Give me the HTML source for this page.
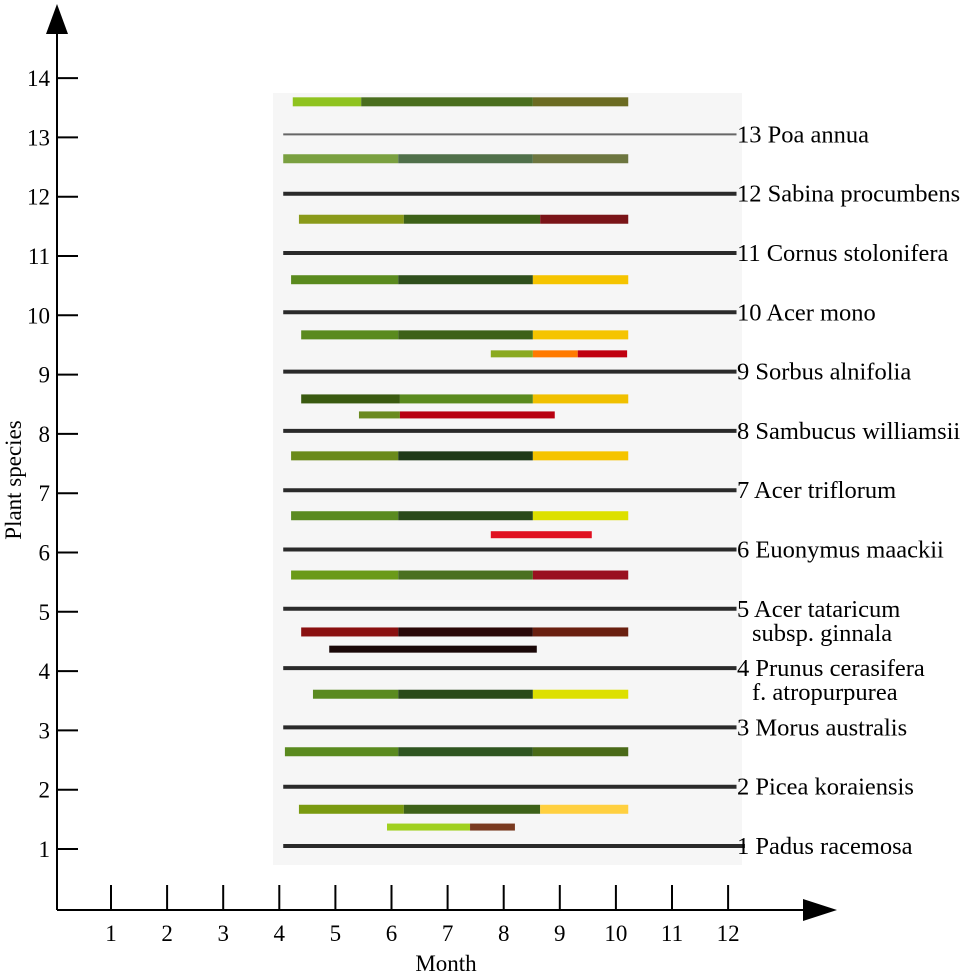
<!DOCTYPE html>
<html><head><meta charset="utf-8"><style>
html,body{margin:0;padding:0;background:#fff}
svg{display:block}
text{font-family:"Liberation Serif",serif;fill:#000}
</style></head><body>
<svg id="chart" width="968" height="979" viewBox="0 0 968 979" xmlns="http://www.w3.org/2000/svg">
<rect x="273" y="93" width="469" height="772" fill="#f6f6f6"/>
<g id="lines"></g>
<g id="bars"></g>
<g id="axes">
<line x1="57" y1="28" x2="57" y2="910" stroke="#000" stroke-width="2"/>
<polygon points="57,4 46,34 68,34" fill="#000"/>
<line x1="57" y1="910" x2="808" y2="910" stroke="#000" stroke-width="2"/>
<polygon points="837,910 803,899 803,921" fill="#000"/>
</g>
<g id="yticks"></g>
<g id="xticks"></g>
<g id="labels"></g>
<text x="446" y="971" font-size="23" text-anchor="middle">Month</text>
<text x="21" y="480" font-size="23" text-anchor="middle" transform="rotate(-90 21 480)">Plant species</text>
</svg>
<script>
const yTicks=[1,2,3,4,5,6,7,8,9,10,11,12,13,14];
const xTicks=[1,2,3,4,5,6,7,8,9,10,11,12];
const lineRows=[1,2,3,4,5,6,7,8,9,10,11,12,13];
const lineEnds=[12.3,12.15,12.15,12.15,12.15,12.15,12.15,12.15,12.15,12.15,12.15,12.15,12.15];
const segRow=[13.6,13.6,13.6, 12.64,12.64,12.64, 11.62,11.62,11.62, 10.6,10.6,10.6, 9.67,9.67,9.67, 9.35,9.35,9.35, 8.59,8.59,8.59, 8.32,8.32, 7.63,7.63,7.63, 6.62,6.62,6.62, 6.3, 5.62,5.62,5.62, 4.66,4.66,4.66, 4.37, 3.61,3.61,3.61, 2.64,2.64,2.64, 1.67,1.67,1.67, 1.37,1.37];
const segStart=[4.24,5.46,8.52, 4.07,6.12,8.52, 4.35,6.22,8.65, 4.21,6.12,8.52, 4.39,6.12,8.52, 7.77,8.52,9.32, 4.39,6.15,8.52, 5.42,6.15, 4.21,6.12,8.52, 4.21,6.12,8.52, 7.77, 4.21,6.12,8.52, 4.39,6.12,8.52, 4.89, 4.6,6.12,8.52, 4.1,6.12,8.52, 4.35,6.22,8.65, 5.92,7.4];
const segEnd=[5.46,8.52,10.22, 6.12,8.52,10.22, 6.22,8.65,10.22, 6.12,8.52,10.22, 6.12,8.52,10.22, 8.52,9.32,10.2, 6.15,8.52,10.22, 6.15,8.91, 6.12,8.52,10.22, 6.12,8.52,10.22, 9.57, 6.12,8.52,10.22, 6.12,8.52,10.22, 8.59, 6.12,8.52,10.22, 6.12,8.52,10.22, 6.22,8.65,10.22, 7.4,8.2];
const segColor=["#8fc31f","#4a6e1e","#6b6b22", "#7aa040","#50704a","#6d7640", "#8a9a1a","#3d6118","#7a1418", "#5a8a1e","#2f4f1c","#f5c400", "#5a8a1e","#3d6118","#f5c400", "#8aaa20","#ff7a00","#c00010", "#3a5a10","#5a8a1e","#f0c000", "#6a8a20","#b80010", "#6a8a1a","#1f3a18","#f5c400", "#5a8a20","#2a4a1a","#dde000", "#e01020", "#6a9a18","#4a7020","#9a1020", "#8a1010","#2a0808","#6a2010", "#1a0808", "#5a8a20","#2a4a1a","#dde000", "#5a8a1e","#2f5520","#4a6a18", "#7a9a10","#3d6118","#ffd040", "#a0d020","#7a3a20"];
const labelText=["1 Padus racemosa","2 Picea koraiensis","3 Morus australis","4 Prunus cerasifera","5 Acer tataricum","6 Euonymus maackii","7 Acer triflorum","8 Sambucus williamsii","9 Sorbus alnifolia","10 Acer mono","11 Cornus stolonifera","12 Sabina procumbens","13 Poa annua"];
const labelRow=[1,2,3,4,5,6,7,8,9,10,11,12,13];
const subText=["f. atropurpurea","subsp. ginnala"];
const subRow=[4,5];

const NS="http://www.w3.org/2000/svg";
const X=m=>111+(m-1)*56.1;
const Y=v=>849-(v-1)*59.3;
function mk(tag,attrs,parent){const e=document.createElementNS(NS,tag);for(const k in attrs)e.setAttribute(k,attrs[k]);parent.appendChild(e);return e;}
const gY=document.getElementById('yticks'),gX=document.getElementById('xticks'),gL=document.getElementById('lines'),gB=document.getElementById('bars'),gT=document.getElementById('labels');
yTicks.forEach(v=>{
  const l=mk('line',{x1:57,x2:78,y1:Y(v),y2:Y(v),stroke:'#000','stroke-width':2},gY);
  
  
  const t=mk('text',{x:50,y:Y(v)+8,'font-size':23,'text-anchor':'end'},gY);t.textContent=v;
  
  
});
xTicks.forEach(v=>{
  const l=mk('line',{x1:X(v),x2:X(v),y1:885,y2:910,stroke:'#000','stroke-width':2},gX);
  
  
  const t=mk('text',{x:X(v),y:941,'font-size':23,'text-anchor':'middle'},gX);t.textContent=v;
  
  
});
lineRows.forEach((r,i)=>{
  const l=mk('line',{x1:X(4.07),x2:X(lineEnds[i]),y1:Y(r)-3,y2:Y(r)-3,stroke:r===13?'#666':'#2a2a2a','stroke-width':r===13?2:4},gL);
  
  
});
segRow.forEach((r,i)=>{
  const main=(r%1>0.5);
  const h=main?9:7;
  const b=mk('rect',{x:X(segStart[i]),y:Y(r)-h/2,width:X(segEnd[i])-X(segStart[i]),height:h,fill:segColor[i]},gB);
  
  
});
labelText.forEach((s,i)=>{
  const t=mk('text',{x:737,y:Y(labelRow[i])+5,'font-size':24.5},gT);t.textContent=s;
  
  
});
subText.forEach((s,i)=>{
  const t=mk('text',{x:752,y:Y(subRow[i])+29,'font-size':24.5},gT);t.textContent=s;
  
  
});
</script>
</body></html>
